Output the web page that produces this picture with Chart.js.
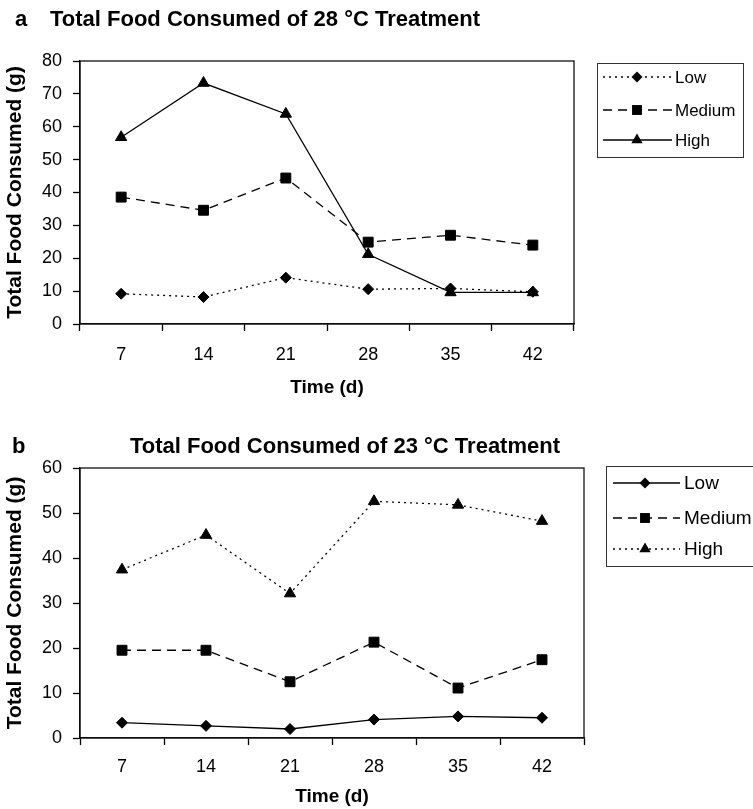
<!DOCTYPE html>
<html lang="en">
<head>
<meta charset="UTF-8">
<title>Total Food Consumed</title>
<script src="https://cdn.jsdelivr.net/npm/chart.js"></script>
<style>
  html, body { margin: 0; padding: 0; background: #fff; }
  #wrap { position: relative; width: 753px; height: 809px; }
  canvas { position: absolute; left: 0; }
</style>
</head>
<body>
<div id="wrap">
  <canvas id="chartA" width="753" height="410" style="top:0"></canvas>
  <canvas id="chartB" width="753" height="399" style="top:410px"></canvas>
</div>
<script>
// data
const days = ['7', '14', '21', '28', '35', '42'];
const seriesNames = ['Low', 'Medium', 'High'];

const lowAt28 = [9.2, 8.2, 14.1, 10.6, 10.8, 9.8];
const mediumAt28 = [38.6, 34.6, 44.4, 24.9, 27.0, 24.0];
const highAt28 = [56.8, 73.3, 63.9, 21.2, 9.6, 9.6];

const lowAt23 = [3.4, 2.7, 2.0, 4.1, 4.8, 4.5];
const mediumAt23 = [19.5, 19.5, 12.5, 21.3, 11.1, 17.4];
const highAt23 = [37.4, 45.1, 32.1, 52.6, 51.8, 48.2];

const yMaxA = 80;
const yMaxB = 60;
const yStep = 10;

const titleA = 'Total Food Consumed of 28 °C Treatment';
const titleB = 'Total Food Consumed of 23 °C Treatment';
const yTitle = 'Total Food Consumed (g)';
const xTitle = 'Time (d)';

const FONT = "'Liberation Sans', Arial, Helvetica, sans-serif";

function drawMarker(ctx, style, x, y, r) {
    ctx.beginPath();
    if (style === 'rectRot') {
        ctx.moveTo(x, y - r);
        ctx.lineTo(x + r, y);
        ctx.lineTo(x, y + r);
        ctx.lineTo(x - r, y);
    } else if (style === 'rect') {
        const s = r * Math.SQRT1_2;
        ctx.rect(x - s, y - s, 2 * s, 2 * s);
    } else {
        const sx = r * Math.sin(Math.PI / 3);
        ctx.moveTo(x, y - r);
        ctx.lineTo(x + sx, y + r / 2);
        ctx.lineTo(x - sx, y + r / 2);
    }
    ctx.closePath();
    ctx.fill();
}

// box round the plot area
const frameBox = {
    id: 'frameBox',
    beforeDatasetsDraw(chart) {
        const a = chart.chartArea;
        const ctx = chart.ctx;
        ctx.save();
        ctx.strokeStyle = '#111';
        ctx.lineWidth = 1.3;
        ctx.strokeRect(a.left, a.top, a.right - a.left, a.bottom - a.top);
        ctx.restore();
    }
};

// panel letter + title
const panelTitle = {
    id: 'panelTitle',
    afterDraw(chart, args, opts) {
        const ctx = chart.ctx;
        ctx.save();
        ctx.fillStyle = '#000';
        ctx.textBaseline = 'middle';
        ctx.font = 'bold 22px ' + FONT;
        ctx.textAlign = 'left';
        ctx.fillText(opts.letter, opts.letterX, opts.y);
        ctx.textAlign = opts.align;
        ctx.fillText(opts.text, opts.textX, opts.y);
        ctx.restore();
    }
};

// legend in a box, with line samples drawn from the datasets
const boxLegend = {
    id: 'boxLegend',
    afterDraw(chart, args, opts) {
        const ctx = chart.ctx;
        ctx.save();
        ctx.fillStyle = '#fff';
        ctx.fillRect(opts.x, opts.y, opts.w, opts.h);
        ctx.strokeStyle = '#333';
        ctx.lineWidth = 1;
        ctx.strokeRect(opts.x + 0.5, opts.y + 0.5, opts.w, opts.h);
        chart.data.datasets.forEach((ds, i) => {
            const y = opts.rows[i];
            ctx.strokeStyle = '#000';
            ctx.lineWidth = 1.3;
            ctx.setLineDash(ds.borderDash || []);
            ctx.beginPath();
            ctx.moveTo(opts.lineFrom, y);
            ctx.lineTo(opts.lineTo, y);
            ctx.stroke();
            ctx.setLineDash([]);
            ctx.fillStyle = '#000';
            drawMarker(ctx, ds.pointStyle, opts.marker, y, ds.pointRadius);
            ctx.font = opts.fontSize + 'px ' + FONT;
            ctx.textAlign = 'left';
            ctx.textBaseline = 'middle';
            ctx.fillText(ds.label, opts.textX, y + 1);
        });
        ctx.restore();
    }
};

const DOTS = [2, 4];
const DASHES = [9, 6];
const SOLID = [];

function makeSet(label, data, dash, style, r) {
    return {
        label: label,
        data: data,
        borderColor: '#000',
        backgroundColor: '#000',
        borderWidth: 1.3,
        borderDash: dash,
        pointStyle: style,
        pointRadius: r,
        pointHoverRadius: r,
        pointBackgroundColor: '#000',
        pointBorderColor: '#000',
        pointBorderWidth: 1,
        tension: 0,
        fill: false
    };
}

function makeScales(yMax, xHeight, xTickPad, xTitlePad) {
    return {
        x: {
            offset: true,
            grid: { offset: true, drawOnChartArea: false, tickLength: 7, color: '#000', tickWidth: 1.3 },
            border: { color: '#000', width: 1.3 },
            ticks: { color: '#000', font: { family: FONT, size: 18 }, padding: xTickPad, maxRotation: 0 },
            title: { display: true, text: xTitle, color: '#000', font: { family: FONT, size: 19, weight: 'bold' }, padding: { top: 0, bottom: xTitlePad } },
            afterFit: s => { s.height = xHeight; }
        },
        y: {
            min: 0,
            max: yMax,
            ticks: { stepSize: yStep, color: '#000', font: { family: FONT, size: 18 }, padding: 11 },
            grid: { drawOnChartArea: false, tickLength: 7, color: '#000', tickWidth: 1.3 },
            border: { color: '#000', width: 1.3 },
            title: { display: true, text: yTitle, color: '#000', font: { family: FONT, size: 21, weight: 'bold' }, padding: { top: 3, bottom: 0 } },
            afterFit: s => { s.width = 80; }
        }
    };
}

const baseOpts = {
    responsive: false,
    animation: false,
    devicePixelRatio: 1,
    events: []
};

new Chart(document.getElementById('chartA'), {
    type: 'line',
    data: {
        labels: days,
        datasets: [
            makeSet(seriesNames[0], lowAt28, DOTS, 'rectRot', 5.5),
            makeSet(seriesNames[1], mediumAt28, DASHES, 'rect', 7),
            makeSet(seriesNames[2], highAt28, SOLID, 'triangle', 6.5)
        ]
    },
    options: Object.assign({}, baseOpts, {
        layout: { padding: { top: 61, right: 179, bottom: 0, left: 0 } },
        scales: makeScales(yMaxA, 86, 13, 10.6),
        plugins: {
            legend: { display: false },
            tooltip: { enabled: false },
            panelTitle: { letter: 'a', letterX: 15, text: titleA, textX: 50, align: 'left', y: 20 },
            boxLegend: { x: 597, y: 63, w: 146, h: 94, rows: [77, 110, 140], lineFrom: 603, lineTo: 672, marker: 637, textX: 675, fontSize: 17 }
        }
    }),
    plugins: [frameBox, panelTitle, boxLegend]
});

new Chart(document.getElementById('chartB'), {
    type: 'line',
    data: {
        labels: days,
        datasets: [
            makeSet(seriesNames[0], lowAt23, SOLID, 'rectRot', 5.5),
            makeSet(seriesNames[1], mediumAt23, DASHES, 'rect', 7),
            makeSet(seriesNames[2], highAt23, DOTS, 'triangle', 6.5)
        ]
    },
    options: Object.assign({}, baseOpts, {
        layout: { padding: { top: 58, right: 169, bottom: 0, left: 0 } },
        scales: makeScales(yMaxB, 71, 11, 0.6),
        plugins: {
            legend: { display: false },
            tooltip: { enabled: false },
            panelTitle: { letter: 'b', letterX: 12, text: titleB, textX: 560, align: 'right', y: 37 },
            boxLegend: { x: 606, y: 56, w: 160, h: 100, rows: [73, 108, 139], lineFrom: 613, lineTo: 680, marker: 645, textX: 684, fontSize: 19 }
        }
    }),
    plugins: [frameBox, panelTitle, boxLegend]
});
</script>
</body>
</html>
